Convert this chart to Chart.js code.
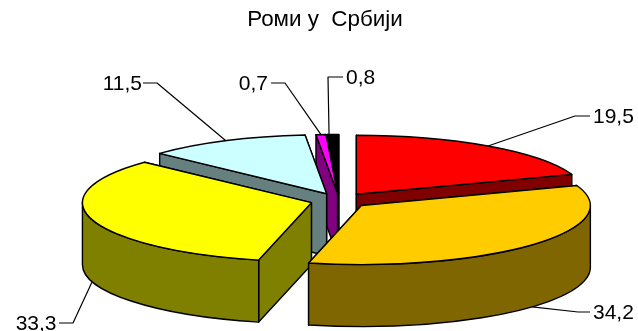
<!DOCTYPE html>
<html>
<head>
<meta charset="utf-8">
<script src="https://cdn.jsdelivr.net/npm/chart.js@4"></script>
<style>
html, body { margin: 0; padding: 0; background: #fff; }
canvas { display: block; }
</style>
</head>
<body>
<canvas id="chart" width="638" height="331"></canvas>
<script>
const titleText = "Роми у  Србији";
const values = [19.5, 34.2, 33.3, 11.5, 0.7, 0.8];
const valueLabels = ["19,5", "34,2", "33,3", "11,5", "0,7", "0,8"];
const topColors = ["#FF0000", "#FFCC00", "#FFFF00", "#CCFFFF", "#FF00FF", "#000000"];
const wallColors = ["#800000", "#806600", "#808000", "#668080", "#800080", "#000000"];

// look of the flattened pie
const center = { x: 339.5, y: 200.5 };
const radiusX = 229;
const radiusY = 59;
const depth = 62;
const explode = [0.128, 0.128, 0.128, 0.128, 0.12, 0.12];
const drawOrder = [5, 4, 0, 3, 2, 1];

// label text position and the elbow of its leader line
const leaders = [
    { x: 593, y: 117, elbowX: 575, elbowY: 116, endX: 590, align: "left", fromWall: false },
    { x: 593, y: 313, elbowX: 578, elbowY: 312, endX: 590, align: "left", fromWall: true },
    { x: 56.5, y: 324, elbowX: 73, elbowY: 323, endX: 59, align: "right", fromWall: true },
    { x: 142, y: 84, elbowX: 157, elbowY: 83, endX: 143, align: "right", fromWall: false },
    { x: 268, y: 84, elbowX: 285, elbowY: 83, endX: 271, align: "right", fromWall: false },
    { x: 346, y: 78, elbowX: 328, elbowY: 77, endX: 343, align: "left", fromWall: false, shiftX: -4 }
];

function sliceOrigin(arc, i) {
    const mid = (arc.startAngle + arc.endAngle) / 2;
    return {
        x: center.x + explode[i] * radiusX * Math.cos(mid),
        y: center.y + explode[i] * radiusY * Math.sin(mid),
        mid: mid
    };
}

function rimPoint(o, angle) {
    return { x: o.x + radiusX * Math.cos(angle), y: o.y + radiusY * Math.sin(angle) };
}

function fillStroke(ctx, color) {
    ctx.fillStyle = color;
    ctx.fill();
    ctx.stroke();
}

function drawFace(ctx, o, angle, color) {
    const p = rimPoint(o, angle);
    ctx.beginPath();
    ctx.moveTo(o.x, o.y);
    ctx.lineTo(p.x, p.y);
    ctx.lineTo(p.x, p.y + depth);
    ctx.lineTo(o.x, o.y + depth);
    ctx.closePath();
    fillStroke(ctx, color);
}

function drawSlice(ctx, arc, i) {
    const o = sliceOrigin(arc, i);
    const a1 = arc.startAngle;
    const a2 = arc.endAngle;

    ctx.strokeStyle = "#000";
    ctx.lineWidth = 1.4;
    ctx.lineJoin = "round";

    drawFace(ctx, o, a2, wallColors[i]);
    drawFace(ctx, o, a1, wallColors[i]);

    const lo = Math.max(a1, 0);
    const hi = Math.min(a2, Math.PI);
    if (hi > lo) {
        ctx.beginPath();
        ctx.ellipse(o.x, o.y, radiusX, radiusY, 0, lo, hi);
        ctx.ellipse(o.x, o.y + depth, radiusX, radiusY, 0, hi, lo, true);
        ctx.closePath();
        fillStroke(ctx, wallColors[i]);
    }

    // top face comes from the library, squeezed onto the ellipse
    ctx.save();
    ctx.translate(o.x, o.y);
    ctx.scale(radiusX / arc.outerRadius, radiusY / arc.outerRadius);
    ctx.translate(-arc.x, -arc.y);
    arc.draw(ctx);
    ctx.restore();

    ctx.beginPath();
    ctx.moveTo(o.x, o.y);
    ctx.ellipse(o.x, o.y, radiusX, radiusY, 0, a1, a2);
    ctx.closePath();
    ctx.stroke();
}

function drawLabels(ctx, arcs) {
    ctx.strokeStyle = "#000";
    ctx.lineWidth = 1.2;
    ctx.fillStyle = "#000";
    ctx.font = "21px 'Liberation Sans'";
    ctx.textBaseline = "middle";

    leaders.forEach(function (l, i) {
        const o = sliceOrigin(arcs[i], i);
        const p = rimPoint(o, o.mid);
        ctx.beginPath();
        ctx.moveTo(p.x + (l.shiftX || 0), p.y + (l.fromWall ? depth : 0));
        ctx.lineTo(l.elbowX, l.elbowY);
        ctx.lineTo(l.endX, l.elbowY);
        ctx.stroke();
        ctx.textAlign = l.align;
        ctx.fillText(valueLabels[i], l.x, l.y);
    });
}

const pie3d = {
    id: "pie3d",
    beforeDatasetDraw(chart) {
        const ctx = chart.ctx;
        const arcs = chart.getDatasetMeta(0).data;
        drawOrder.forEach(function (i) {
            drawSlice(ctx, arcs[i], i);
        });
        drawLabels(ctx, arcs);
        return false;
    }
};

new Chart(document.getElementById("chart"), {
    type: "pie",
    data: {
        labels: valueLabels,
        datasets: [
            {
                data: values,
                backgroundColor: topColors,
                borderWidth: 0
            }
        ]
    },
    options: {
        responsive: false,
        animation: false,
        layout: { padding: { left: 12 } },
        plugins: {
            legend: { display: false },
            tooltip: { enabled: false },
            title: {
                display: true,
                text: titleText,
                color: "#000",
                font: { family: "'Liberation Sans'", size: 22.4, weight: "normal" },
                padding: { top: 6, bottom: 10 }
            }
        }
    },
    plugins: [pie3d]
});
</script>
</body>
</html>
